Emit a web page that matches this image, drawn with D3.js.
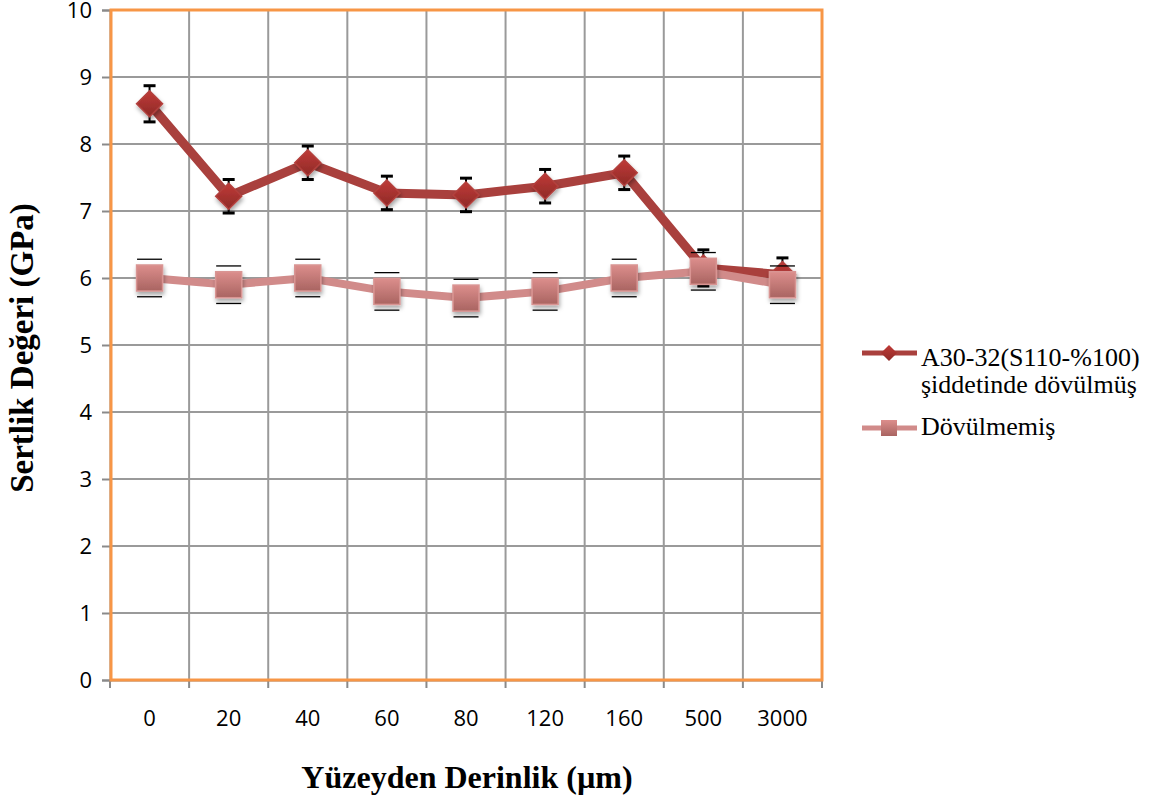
<!DOCTYPE html>
<html>
<head>
<meta charset="utf-8">
<script src="https://cdn.jsdelivr.net/npm/d3@7/dist/d3.min.js"></script>
<style>
  html, body { margin: 0; padding: 0; background: #fff; }
  svg { display: block; }
</style>
</head>
<body>
<svg id="chart" width="1159" height="803"></svg>
<script>
// Depth categories (µm) and hardness values (GPa)
const depths = ["0", "20", "40", "60", "80", "120", "160", "500", "3000"];
const peened = [8.6, 7.22, 7.72, 7.27, 7.24, 7.37, 7.57, 6.15, 6.05];
const peenedErr = [0.27, 0.25, 0.25, 0.25, 0.25, 0.25, 0.25, 0.27, 0.25];
const unpeened = [6.0, 5.9, 6.0, 5.8, 5.7, 5.8, 6.0, 6.1, 5.9];
const unpeenedErr = [0.28, 0.28, 0.28, 0.28, 0.28, 0.28, 0.28, 0.28, 0.28];
const yTicks = [0, 1, 2, 3, 4, 5, 6, 7, 8, 9, 10];
const seriesNames = ["A30-32(S110-%100)", "şiddetinde dövülmüş", "Dövülmemiş"];

const svg = d3.select("#chart");
const m = { left: 110, top: 10, right: 822, bottom: 680 };

const x = d3.scaleBand().domain(depths).range([m.left, m.right]);
const y = d3.scaleLinear().domain([0, 10]).range([m.bottom, m.top]);
const cx = d => x(d) + x.bandwidth() / 2;

const defs = svg.append("defs");
const gSq = defs.append("linearGradient").attr("id", "gSq").attr("x1", 0).attr("y1", 0).attr("x2", 0).attr("y2", 1);
gSq.append("stop").attr("offset", "0%").attr("stop-color", "#dc8e8c");
gSq.append("stop").attr("offset", "100%").attr("stop-color", "#a96461");
const gDi = defs.append("linearGradient").attr("id", "gDi").attr("x1", 0).attr("y1", 0).attr("x2", 0).attr("y2", 1);
gDi.append("stop").attr("offset", "0%").attr("stop-color", "#c03a36");
gDi.append("stop").attr("offset", "100%").attr("stop-color", "#8e2a28");
const sh = defs.append("filter").attr("id", "shadow").attr("x", "-50%").attr("y", "-50%").attr("width", "200%").attr("height", "200%");
sh.append("feDropShadow").attr("dx", 1).attr("dy", 3).attr("stdDeviation", 2).attr("flood-color", "#000").attr("flood-opacity", 0.35);

// Grid
const grid = svg.append("g");
grid.selectAll("line.h").data(yTicks).join("line")
  .attr("x1", m.left).attr("x2", m.right)
  .attr("y1", d => y(d)).attr("y2", d => y(d))
  .attr("stroke", "#9a9a9a").attr("stroke-width", 2);
grid.selectAll("line.v").data(depths.slice(1)).join("line")
  .attr("x1", d => x(d)).attr("x2", d => x(d))
  .attr("y1", m.top).attr("y2", m.bottom)
  .attr("stroke", "#9a9a9a").attr("stroke-width", 2);

// Axes
const yAxis = svg.append("g").attr("transform", `translate(${m.left},0)`)
  .call(d3.axisLeft(y).tickValues(yTicks).tickSize(8).tickPadding(10).tickFormat(d3.format("d")));
const xEdges = depths.map(d => x(d)).concat([m.right]);
const xAxis = svg.append("g").attr("transform", `translate(0,${m.bottom})`)
  .call(d3.axisBottom(x).tickSize(0).tickPadding(30));
xAxis.selectAll(".xt").data(xEdges).join("line").attr("class", "xt")
  .attr("x1", d => d).attr("x2", d => d).attr("y1", 0).attr("y2", 8)
  .attr("stroke", "#8a8a8a").attr("stroke-width", 2);
[yAxis, xAxis].forEach(a => {
  a.select(".domain").attr("stroke", "#8a8a8a").attr("stroke-width", 2);
  a.selectAll(".tick line").attr("stroke", "#8a8a8a").attr("stroke-width", 2);
  a.selectAll("text").attr("font-family", "'Open Sans', sans-serif").attr("font-size", 22).attr("fill", "#000");
});
yAxis.selectAll("text").attr("dy", "0.36em");

// Plot border
svg.append("rect").attr("x", m.left + 1).attr("y", m.top).attr("width", m.right - m.left - 1).attr("height", m.bottom - m.top)
  .attr("fill", "none").attr("stroke", "#f79646").attr("stroke-width", 3);

const line = d3.line().x((d, i) => cx(depths[i])).y(d => y(d));

// Peened series
svg.append("path").datum(peened).attr("d", line)
  .attr("fill", "none").attr("stroke", "#a9403d").attr("stroke-width", 9).attr("stroke-linejoin", "round");

// Peened error bars
const eb = svg.append("g");
peened.forEach((v, i) => {
  const px = cx(depths[i]);
  const e = peenedErr[i];
  eb.append("line").attr("x1", px).attr("x2", px).attr("y1", y(v + e)).attr("y2", y(v - e)).attr("stroke", "#000").attr("stroke-width", 2);
  [v + e, v - e].forEach(t => eb.append("line").attr("x1", px - 6).attr("x2", px + 6).attr("y1", y(t)).attr("y2", y(t)).attr("stroke", "#000").attr("stroke-width", 3));
});

// Peened diamond markers
svg.append("g").selectAll("path").data(peened).join("path")
  .attr("transform", (d, i) => `translate(${cx(depths[i])},${y(d)})`)
  .attr("d", "M0,-13L13,0L0,13L-13,0Z")
  .attr("fill", "url(#gDi)").attr("stroke", "#b3403d").attr("stroke-width", 1.5)
  .attr("filter", "url(#shadow)");

// Unpeened series
svg.append("path").datum(unpeened).attr("d", line)
  .attr("fill", "none").attr("stroke", "#d18b8a").attr("stroke-width", 8);

// Unpeened error bar caps
const eb2 = svg.append("g");
unpeened.forEach((v, i) => {
  const px = cx(depths[i]);
  const e = unpeenedErr[i];
  [v + e, v - e].forEach(t => eb2.append("line").attr("x1", px - 12.5).attr("x2", px + 12.5).attr("y1", y(t)).attr("y2", y(t)).attr("stroke", "#000").attr("stroke-width", 1.3));
});

// Unpeened square markers
svg.append("g").selectAll("rect").data(unpeened).join("rect")
  .attr("x", (d, i) => cx(depths[i]) - 13).attr("y", d => y(d) - 13)
  .attr("width", 26).attr("height", 26)
  .attr("fill", "url(#gSq)").attr("stroke", "#d99593").attr("stroke-width", 1.5)
  .attr("filter", "url(#shadow)");

// Axis titles
svg.append("text").attr("transform", "translate(33,348) rotate(-90)")
  .attr("text-anchor", "middle").attr("font-family", "'Liberation Serif', serif").attr("font-weight", "bold").attr("font-size", 33)
  .text("Sertlik Değeri (GPa)");
svg.append("text").attr("x", 467).attr("y", 788)
  .attr("text-anchor", "middle").attr("font-family", "'Liberation Serif', serif").attr("font-weight", "bold").attr("font-size", 32)
  .text("Yüzeyden Derinlik (µm)");

// Legend
const lg = svg.append("g").attr("font-family", "'Liberation Serif', serif").attr("font-size", 26).attr("fill", "#000");
lg.append("line").attr("x1", 862).attr("x2", 917).attr("y1", 353).attr("y2", 353).attr("stroke", "#a9403d").attr("stroke-width", 5);
lg.append("path").attr("transform", "translate(889,353)").attr("d", "M0,-8L8,0L0,8L-8,0Z").attr("fill", "url(#gDi)");
lg.append("text").attr("x", 921).attr("y", 366).text(seriesNames[0]);
lg.append("text").attr("x", 921).attr("y", 393).text(seriesNames[1]);
lg.append("line").attr("x1", 862).attr("x2", 917).attr("y1", 428).attr("y2", 428).attr("stroke", "#d18b8a").attr("stroke-width", 5);
lg.append("rect").attr("x", 881).attr("y", 420).attr("width", 16).attr("height", 16).attr("fill", "url(#gSq)");
lg.append("text").attr("x", 921).attr("y", 435).text(seriesNames[2]);
</script>
</body>
</html>
